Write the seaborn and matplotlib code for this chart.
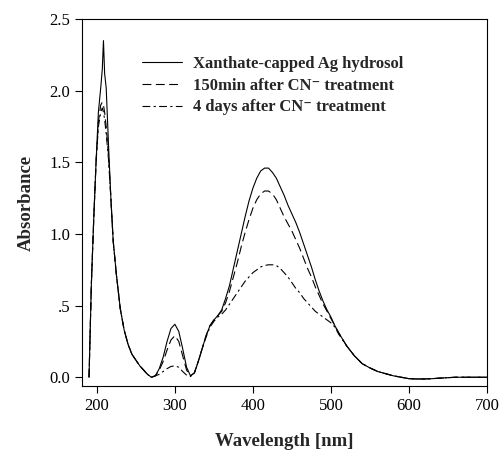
import numpy as np
import pandas as pd
import matplotlib
matplotlib.use("Agg")
import matplotlib.pyplot as plt
import seaborn as sns

wavelength = [190, 193, 196, 199, 202, 205, 207, 208.5, 210, 212, 215, 218, 221, 225,
              230, 235, 240, 245, 250, 255, 260, 265, 270, 275, 280, 285, 290, 295,
              300, 305, 310, 315, 320, 325, 330, 335, 340, 345, 350, 355, 360, 365,
              370, 375, 380, 385, 390, 395, 400, 405, 410, 415, 420, 425, 430, 435,
              440, 445, 450, 455, 460, 465, 470, 475, 480, 485, 490, 495, 500, 505,
              510, 520, 530, 540, 550, 560, 570, 580, 590, 600, 610, 620, 630, 640,
              650, 660, 670, 680, 690, 700]

hydrosol = [0.0, 0.65, 1.10, 1.50, 1.85, 2.02, 2.15, 2.35, 2.12, 2.02, 1.62, 1.25, 0.95, 0.72,
            0.48, 0.33, 0.23, 0.16, 0.12, 0.08, 0.05, 0.02, 0.0, 0.01, 0.06, 0.14, 0.25, 0.34,
            0.37, 0.32, 0.20, 0.07, 0.01, 0.03, 0.11, 0.20, 0.29, 0.36, 0.40, 0.43, 0.47, 0.55,
            0.64, 0.76, 0.88, 1.00, 1.12, 1.23, 1.32, 1.39, 1.44, 1.46, 1.46, 1.43, 1.39, 1.33,
            1.27, 1.20, 1.14, 1.08, 1.01, 0.93, 0.85, 0.77, 0.68, 0.60, 0.53, 0.47, 0.42, 0.36,
            0.31, 0.22, 0.15, 0.095, 0.065, 0.04, 0.025, 0.01, 0.0, -0.01, -0.012, -0.012, -0.01, -0.006,
            -0.003, 0.0, 0.0, 0.0, 0.0, 0.0]

after_150min = [0.0, 0.65, 1.10, 1.50, 1.78, 1.90, 1.92, 1.90, 1.85, 1.75, 1.55, 1.25, 0.95, 0.72,
                0.48, 0.33, 0.23, 0.16, 0.12, 0.08, 0.05, 0.02, 0.0, 0.01, 0.05, 0.11, 0.19, 0.26,
                0.29, 0.25, 0.15, 0.05, 0.01, 0.03, 0.11, 0.20, 0.29, 0.36, 0.40, 0.43, 0.46, 0.52,
                0.60, 0.70, 0.80, 0.91, 1.01, 1.10, 1.18, 1.24, 1.28, 1.30, 1.30, 1.28, 1.24, 1.18,
                1.12, 1.07, 1.02, 0.96, 0.90, 0.83, 0.76, 0.70, 0.63, 0.57, 0.51, 0.46, 0.41, 0.36,
                0.31, 0.22, 0.15, 0.095, 0.065, 0.04, 0.025, 0.01, 0.0, -0.01, -0.012, -0.012, -0.01, -0.006,
                -0.003, 0.0, 0.0, 0.0, 0.0, 0.0]

after_4days = [0.0, 0.65, 1.10, 1.50, 1.75, 1.85, 1.88, 1.85, 1.80, 1.70, 1.52, 1.25, 0.95, 0.72,
               0.48, 0.33, 0.23, 0.16, 0.12, 0.08, 0.05, 0.02, 0.0, 0.01, 0.02, 0.04, 0.06, 0.075,
               0.08, 0.07, 0.04, 0.015, 0.005, 0.03, 0.11, 0.20, 0.28, 0.35, 0.39, 0.42, 0.44, 0.47,
               0.51, 0.55, 0.59, 0.63, 0.67, 0.70, 0.73, 0.75, 0.77, 0.78, 0.785, 0.785, 0.78, 0.76,
               0.73, 0.70, 0.66, 0.62, 0.59, 0.55, 0.52, 0.49, 0.46, 0.44, 0.42, 0.40, 0.38, 0.35,
               0.30, 0.22, 0.15, 0.095, 0.065, 0.04, 0.025, 0.01, 0.0, -0.01, -0.012, -0.012, -0.01, -0.006,
               -0.003, 0.0, 0.0, 0.0, 0.0, 0.0]

labels = ["Xanthate-capped Ag hydrosol",
          "150min after CN\u207b treatment",
          "4 days after CN\u207b treatment"]

x_ticks = [200, 300, 400, 500, 600, 700]
y_ticks = [0.0, 0.5, 1.0, 1.5, 2.0, 2.5]
y_tick_labels = ["0.0", ".5", "1.0", "1.5", "2.0", "2.5"]

df = pd.concat([
    pd.DataFrame({"Wavelength": wavelength, "Absorbance": vals, "series": lab})
    for vals, lab in zip([hydrosol, after_150min, after_4days], labels)
], ignore_index=True)

sns.set_style("ticks")
serif = ["Liberation Serif", "DejaVu Serif"]
plt.rcParams["font.family"] = serif

fig = plt.figure(figsize=(5.0, 4.55), dpi=100)
ax = fig.add_axes([0.164, 0.152, 0.81, 0.806])

dashes = {labels[0]: "", labels[1]: (8, 4), labels[2]: (7, 3, 2, 3)}
sns.lineplot(data=df, x="Wavelength", y="Absorbance", style="series",
             dashes=dashes, color="black", linewidth=0.8, ax=ax, sort=False,
             estimator=None)

ax.set_xlim(181, 700)
ax.set_ylim(-0.06, 2.5)
ax.set_xticks(x_ticks)
ax.set_xticklabels([str(t) for t in x_ticks])
ax.set_yticks(y_ticks)
ax.set_yticklabels(y_tick_labels)
ax.tick_params(direction="out", length=5, width=0.8, labelsize=12, colors="black")
for s in ax.spines.values():
    s.set_visible(True)
    s.set_linewidth(0.8)
    s.set_color("black")

ax.set_xlabel("Wavelength [nm]", fontsize=13.5, fontweight="bold", labelpad=14)
ax.set_ylabel("Absorbance", fontsize=13.5, fontweight="bold", labelpad=10)

handles, labs = ax.get_legend_handles_labels()
leg = ax.legend(handles, labs, loc="upper left", bbox_to_anchor=(0.148, 0.9),
                frameon=False, handlelength=2.4, handletextpad=0.65,
                labelspacing=0.35, borderpad=0, borderaxespad=0,
                prop={"family": serif, "weight": "bold", "size": 12})

fig.savefig("out.png", dpi=100)
